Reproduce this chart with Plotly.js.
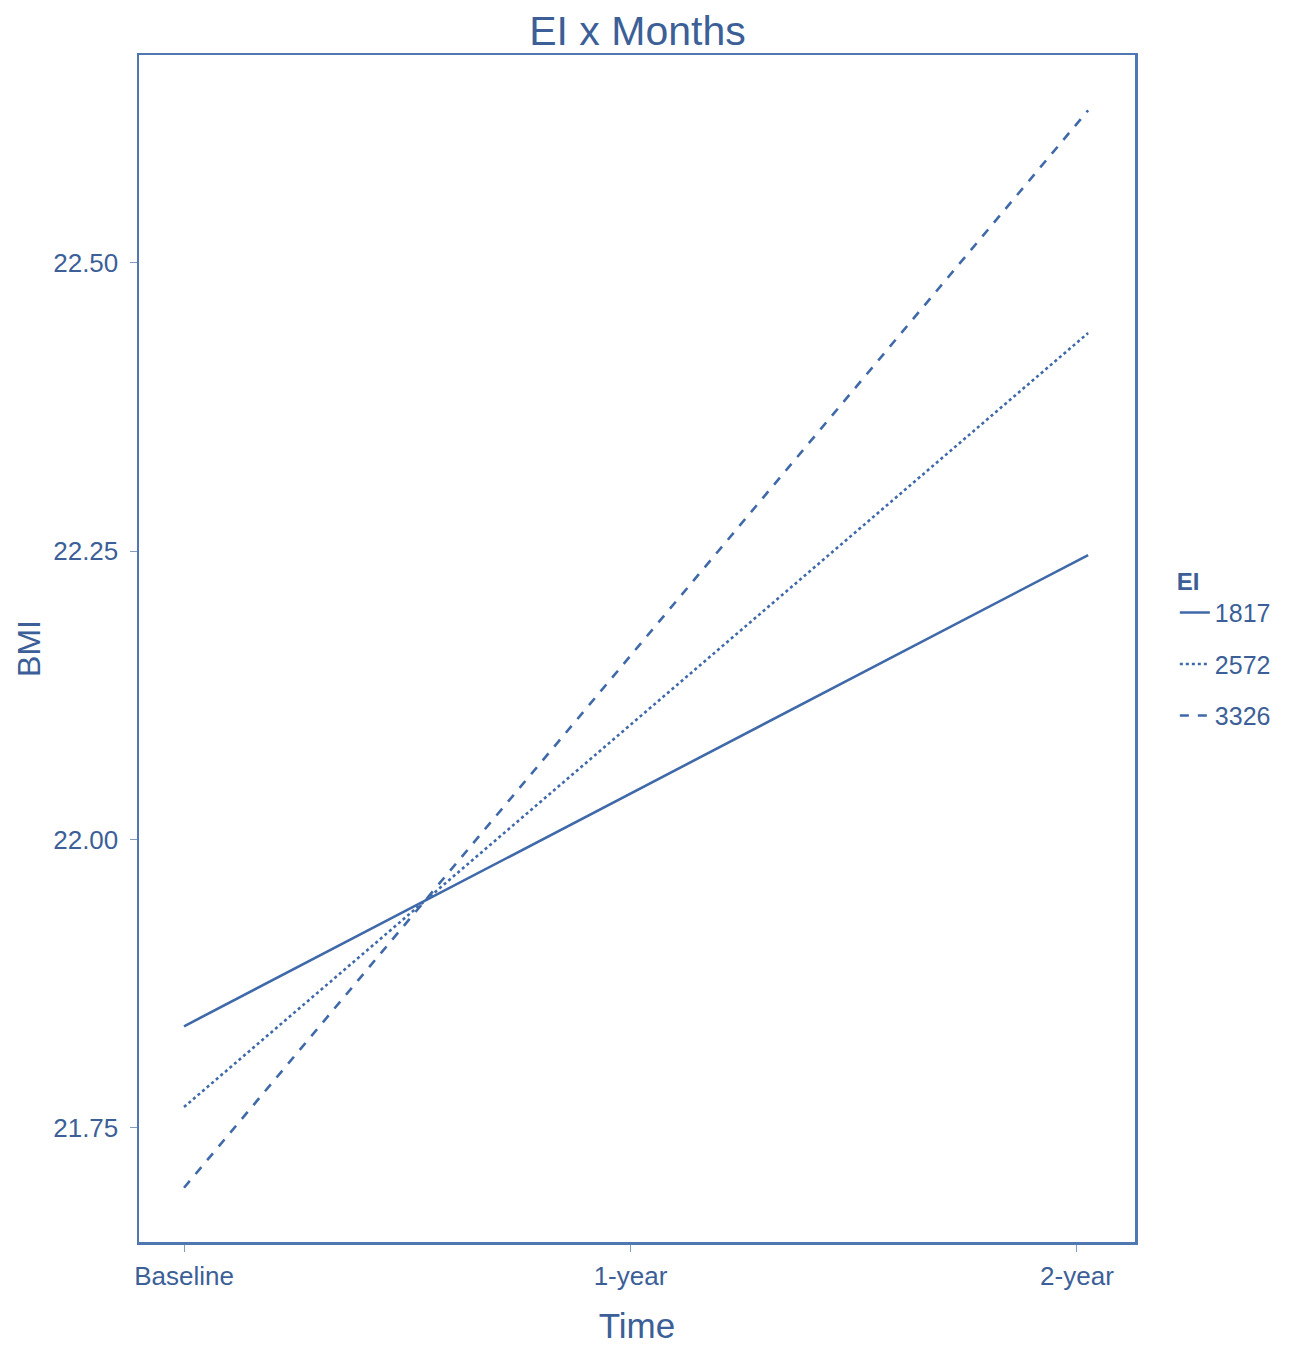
<!DOCTYPE html>
<html>
<head>
<meta charset="utf-8">
<script src="https://cdn.plot.ly/plotly-3.0.1.min.js"></script>
<style>html,body{margin:0;padding:0;background:#fff;}</style>
</head>
<body>
<div id="chart" style="width:1309px;height:1345px;"></div>
<script>
// Data
const months = [0, 24.3];
const tickValues = [0, 12, 24];
const tickLabels = ["Baseline", "1-year", "2-year"];
const groups = ["1817", "2572", "3326"];
const bmi1817 = [21.838, 22.2465];
const bmi2572 = [21.768, 22.439];
const bmi3326 = [21.698, 22.632];

const col = "#3f69a8";
const txt = "#3c5f98";
const dashes = ["solid", "dot", "dash"];
const series = [bmi1817, bmi2572, bmi3326];

const traces = groups.map((g, i) => ({
  x: months, y: series[i], type: "scatter", mode: "lines", name: g,
  legendgroup: "g" + i,
  line: {color: col, width: 2.6, dash: dashes[i]}
}));

const layout = {
  width: 1309, height: 1345,
  margin: {l: 139, r: 174, t: 55, b: 103},
  paper_bgcolor: "#fff", plot_bgcolor: "#fff",
  font: {family: "Liberation Sans, Arial, sans-serif", color: txt},
  title: {text: "EI x Months", x: 0.487, xanchor: "center", y: 0.977, yanchor: "middle",
          font: {size: 41, color: txt}},
  xaxis: {
    range: [-1.21, 25.56], tickmode: "array", tickvals: tickValues, ticktext: tickLabels,
    showgrid: false, zeroline: false, showline: true, mirror: true,
    linecolor: "#4f77b2", linewidth: 2.5, ticks: "outside", ticklen: 7, tickcolor: "#7f9bc6",
    tickfont: {size: 26, color: txt}, ticklabelstandoff: 2,
    title: {text: "Time", font: {size: 35, color: txt}, standoff: 25}
  },
  yaxis: {
    range: [21.651, 22.680], tickvals: [21.75, 22.0, 22.25, 22.5],
    ticktext: ["21.75", "22.00", "22.25", "22.50"],
    showgrid: false, zeroline: false, showline: true, mirror: true,
    linecolor: "#4f77b2", linewidth: 2.5, ticks: "outside", ticklen: 7, tickcolor: "#7f9bc6",
    tickfont: {size: 26, color: txt}, ticklabelstandoff: 6,
    title: {text: "BMI", font: {size: 32, color: txt}, standoff: 3}
  },
  legend: {
    x: 1.04, xanchor: "left", y: 0.5, yanchor: "middle",
    font: {size: 25, color: txt}, tracegroupgap: 16,
    title: {text: "<b>EI</b>", font: {size: 24, color: txt}},
    bgcolor: "rgba(0,0,0,0)"
  },
  showlegend: true
};

Plotly.newPlot("chart", traces, layout, {displayModeBar: false, staticPlot: true});
</script>
</body>
</html>
